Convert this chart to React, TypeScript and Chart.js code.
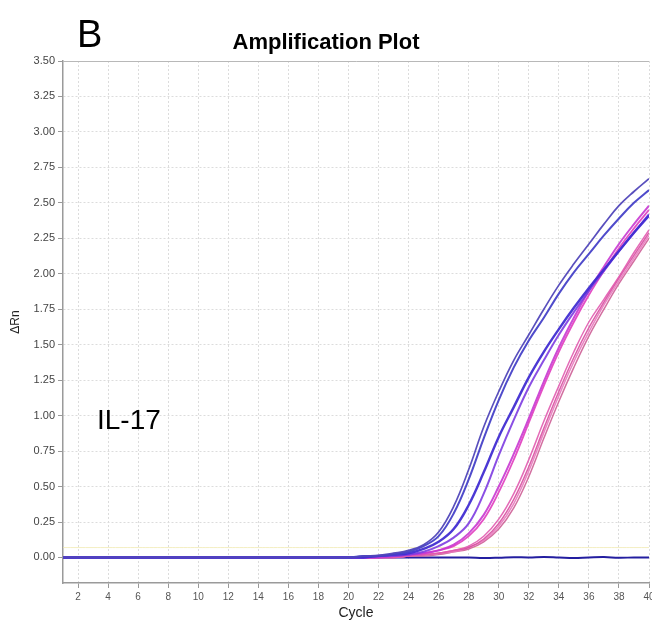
import React, { useEffect, useRef } from "react";
import { Chart, registerables } from "chart.js";

Chart.register(...registerables);

const cycles = [1, 2, 3, 4, 5, 6, 7, 8, 9, 10, 11, 12, 13, 14, 15, 16, 17, 18, 19, 20, 21, 22, 23, 24, 25, 26, 27, 28, 29, 30, 31, 32, 33, 34, 35, 36, 37, 38, 39, 40];

const xTickValues = [2, 4, 6, 8, 10, 12, 14, 16, 18, 20, 22, 24, 26, 28, 30, 32, 34, 36, 38, 40];
const yTickValues = [0, 0.25, 0.5, 0.75, 1.0, 1.25, 1.5, 1.75, 2.0, 2.25, 2.5, 2.75, 3.0, 3.25, 3.5];

// ΔRn per cycle (1..40)
const sampleA = [0, 0, 0, 0, 0, 0, 0, 0, 0, 0, 0, 0, 0, 0, 0, 0, 0, 0, 0, 0, 0.01, 0.015, 0.03, 0.05, 0.09, 0.18, 0.36, 0.62, 0.92, 1.17, 1.39, 1.57, 1.75, 1.92, 2.07, 2.21, 2.35, 2.48, 2.58, 2.67];
const sampleB = [0, 0, 0, 0, 0, 0, 0, 0, 0, 0, 0, 0, 0, 0, 0, 0, 0, 0, 0, 0, 0.01, 0.01, 0.02, 0.04, 0.08, 0.15, 0.31, 0.55, 0.84, 1.11, 1.34, 1.53, 1.69, 1.86, 2.01, 2.14, 2.27, 2.39, 2.5, 2.59];
const sampleC = [0, 0, 0, 0, 0, 0, 0, 0, 0, 0, 0, 0, 0, 0, 0, 0, 0, 0, 0, 0, 0, 0.01, 0.02, 0.03, 0.06, 0.11, 0.2, 0.37, 0.6, 0.85, 1.06, 1.27, 1.45, 1.61, 1.76, 1.9, 2.03, 2.16, 2.29, 2.41];
const sampleD = [0, 0, 0, 0, 0, 0, 0, 0, 0, 0, 0, 0, 0, 0, 0, 0, 0, 0, 0, 0, 0, 0.01, 0.01, 0.02, 0.04, 0.08, 0.14, 0.24, 0.45, 0.72, 0.97, 1.2, 1.39, 1.57, 1.73, 1.88, 2.02, 2.16, 2.29, 2.42];
const sampleE = [0, 0, 0, 0, 0, 0, 0, 0, 0, 0, 0, 0, 0, 0, 0, 0, 0, 0, 0, 0, 0, 0, 0.01, 0.02, 0.03, 0.05, 0.09, 0.17, 0.3, 0.5, 0.73, 0.98, 1.24, 1.48, 1.69, 1.88, 2.05, 2.21, 2.35, 2.48];
const sampleE2 = [0, 0, 0, 0, 0, 0, 0, 0, 0, 0, 0, 0, 0, 0, 0, 0, 0, 0, 0, 0, 0, 0, 0.01, 0.02, 0.03, 0.05, 0.08, 0.15, 0.27, 0.46, 0.69, 0.95, 1.21, 1.45, 1.66, 1.85, 2.02, 2.18, 2.32, 2.45];
const sampleF1 = [0, 0, 0, 0, 0, 0, 0, 0, 0, 0, 0, 0, 0, 0, 0, 0, 0, 0, 0, 0, 0, 0, 0, 0.01, 0.02, 0.03, 0.05, 0.08, 0.15, 0.27, 0.45, 0.69, 0.96, 1.21, 1.45, 1.66, 1.82, 1.98, 2.15, 2.31];
const sampleF2 = [0, 0, 0, 0, 0, 0, 0, 0, 0, 0, 0, 0, 0, 0, 0, 0, 0, 0, 0, 0, 0, 0, 0, 0.01, 0.02, 0.03, 0.05, 0.07, 0.13, 0.24, 0.41, 0.64, 0.91, 1.17, 1.41, 1.62, 1.8, 1.97, 2.13, 2.29];
const sampleF3 = [0, 0, 0, 0, 0, 0, 0, 0, 0, 0, 0, 0, 0, 0, 0, 0, 0, 0, 0, 0, 0, 0, 0, 0.01, 0.02, 0.03, 0.04, 0.07, 0.12, 0.22, 0.38, 0.61, 0.88, 1.14, 1.38, 1.59, 1.78, 1.95, 2.11, 2.27];
const sampleF4 = [0, 0, 0, 0, 0, 0, 0, 0, 0, 0, 0, 0, 0, 0, 0, 0, 0, 0, 0, 0, 0, 0, 0, 0.01, 0.01, 0.02, 0.04, 0.06, 0.11, 0.2, 0.35, 0.57, 0.84, 1.1, 1.34, 1.56, 1.75, 1.93, 2.09, 2.25];
const negControl = [-0.004, 0, 0, 0, 0, 0, 0, 0, 0, 0, 0, 0, 0, 0, 0, 0, 0, 0, 0, 0, 0, 0, 0, 0, 0, 0, 0, 0, -0.004, -0.002, 0.002, 0, 0.004, 0, -0.004, 0, 0.003, -0.002, 0, 0];
const thresholdLine = [0.07, 0.07, 0.07, 0.07, 0.07, 0.07, 0.07, 0.07, 0.07, 0.07, 0.07, 0.07, 0.07, 0.07, 0.07, 0.07, 0.07, 0.07, 0.07, 0.07, 0.07, 0.07, 0.07, 0.07, 0.07, 0.07, 0.07, 0.07, 0.07, 0.07, 0.07, 0.07, 0.07, 0.07, 0.07, 0.07, 0.07, 0.07, 0.07, 0.07];

const FONT = "'Liberation Sans', Arial, Helvetica, sans-serif";

const textPlugin = {
  id: "texts",
  afterDraw(chart: any) {
    const ctx = chart.ctx;
    const area = chart.chartArea;
    ctx.save();
    ctx.fillStyle = "#000";
    ctx.textBaseline = "alphabetic";
    ctx.font = `38px ${FONT}`;
    ctx.textAlign = "left";
    ctx.fillText("B", 77, 47);
    ctx.font = `bold 22px ${FONT}`;
    ctx.textAlign = "center";
    ctx.fillText("Amplification Plot", chart.width / 2, 49);
    ctx.font = `28px ${FONT}`;
    ctx.textAlign = "left";
    ctx.fillText("IL-17", 97, 429);
    ctx.fillStyle = "#222";
    ctx.font = `14px ${FONT}`;
    ctx.textAlign = "center";
    ctx.fillText("Cycle", (area.left + area.right) / 2, 617);
    ctx.translate(16, (area.top + area.bottom) / 2);
    ctx.rotate(-Math.PI / 2);
    ctx.font = `12px ${FONT}`;
    ctx.textBaseline = "middle";
    ctx.fillText("\u0394Rn", 0, 0);
    ctx.restore();
  },
};

function mk(label: string, data: number[], color: string, width: number) {
  return {
    label,
    data: cycles.map((c, i) => ({ x: c, y: data[i] })),
    borderColor: color,
    backgroundColor: color,
    borderWidth: width,
    pointRadius: 0,
    tension: 0.4,
    fill: false,
  };
}

export default function App() {
  const ref = useRef<HTMLCanvasElement>(null);
  useEffect(() => {
    const canvas = ref.current!;
    const chart = new Chart(canvas, {
      type: "line",
      data: {
        datasets: [
          mk("A", sampleA, "rgba(80,70,185,0.95)", 1.7),
          mk("B", sampleB, "rgba(70,65,200,0.95)", 2),
          mk("C", sampleC, "rgba(65,45,210,0.95)", 2.4),
          mk("D", sampleD, "rgba(125,60,225,0.9)", 2),
          mk("E", sampleE, "rgba(200,55,210,0.9)", 2),
          mk("E2", sampleE2, "rgba(225,60,190,0.9)", 1.8),
          mk("F1", sampleF1, "rgba(225,90,175,0.9)", 1.5),
          mk("F2", sampleF2, "rgba(215,80,160,0.9)", 1.5),
          mk("F3", sampleF3, "rgba(232,120,190,0.9)", 1.5),
          mk("F4", sampleF4, "rgba(205,95,150,0.9)", 1.5),
          mk("NTC", negControl, "rgba(35,30,160,1)", 2),
          mk("Threshold", thresholdLine, "rgba(240,232,170,0.7)", 1),
        ],
      },
      options: {
        animation: false,
        responsive: false,
        maintainAspectRatio: false,
        layout: { padding: { top: 61, right: 3, left: 0, bottom: 0 } },
        plugins: {
          legend: { display: false },
          title: { display: false },
          tooltip: { enabled: false },
        },
        scales: {
          x: {
            type: "linear",
            min: 1,
            max: 40,
            afterBuildTicks: (s: any) => {
              s.ticks = xTickValues.map((v) => ({ value: v }));
            },
            afterFit: (s: any) => {
              s.height = 39;
              s.paddingLeft = 0;
              s.paddingRight = 0;
            },
            ticks: {
              autoSkip: false,
              maxRotation: 0,
              padding: 3,
              color: "#555",
              font: { family: FONT, size: 10 },
              callback: (v: any) => String(v),
            },
            grid: {
              color: "#dcdcdc",
              lineWidth: 1,
              tickLength: 5,
              tickColor: "#999",
              tickBorderDash: [],
            },
            border: { display: true, color: "#9a9a9a", width: 1.5, dash: [2, 2] },
          },
          y: {
            type: "linear",
            min: -0.18,
            max: 3.5,
            afterBuildTicks: (s: any) => {
              s.ticks = yTickValues.map((v) => ({ value: v }));
            },
            afterFit: (s: any) => {
              s.width = 63;
              s.paddingTop = 0;
              s.paddingBottom = 0;
            },
            ticks: {
              autoSkip: false,
              padding: 3,
              color: "#444",
              font: { family: FONT, size: 11 },
              callback: (v: any) => Number(v).toFixed(2),
            },
            grid: {
              color: (c: any) => (c.tick && c.tick.value === 3.5 ? "#b8b8b8" : "#dcdcdc"),
              lineWidth: 1,
              tickLength: 5,
              tickColor: "#999",
              tickBorderDash: [],
            },
            border: {
              display: true,
              color: "#9a9a9a",
              width: 1.5,
              dash: (c: any) => (c.tick && c.tick.value === 3.5 ? [] : [2, 2]),
            },
          },
        },
      },
      plugins: [textPlugin],
    } as any);
    return () => chart.destroy();
  }, []);
  return (
    <div style={{ position: "fixed", left: 0, top: 0, width: 652, height: 622, background: "#fff" }}>
      <canvas ref={ref} width={652} height={622} style={{ display: "block" }} />
    </div>
  );
}
